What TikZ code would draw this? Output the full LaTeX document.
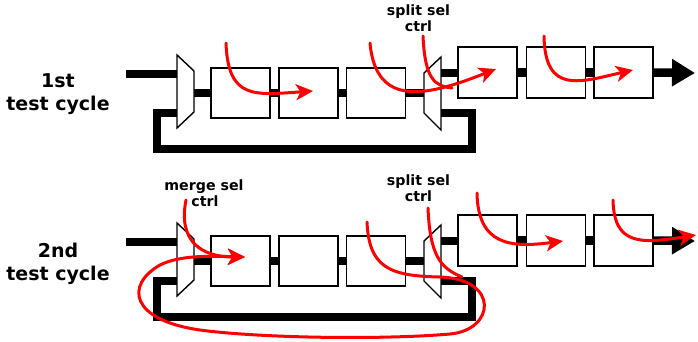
\documentclass[tikz,border=0pt]{standalone}
\usepackage{fontspec}
\setmainfont{DejaVu Sans}
\usetikzlibrary{arrows.meta}
\begin{document}
\begin{tikzpicture}[x=1pt,y=-1pt,
  reg/.style={draw=black, line width=1.4pt, fill=white, minimum width=59pt, minimum height=50pt, inner sep=0pt},
  bus/.style={line width=8.5pt, line join=miter, line cap=butt},
  mux/.style={draw=black, line width=1.4pt, fill=white, line join=miter},
  flow/.style={draw=red, line width=3pt, line cap=round},
  flowtip/.style={flow, -{Stealth[length=17pt,width=16pt,inset=4.5pt]}},
  big/.style={font=\bfseries\fontsize{19}{23}\selectfont, inner sep=0pt},
  small/.style={font=\bfseries\fontsize{14.2}{16}\selectfont, inner sep=0pt}]
\useasboundingbox (0,0) rectangle (698,341);

\foreach \r/\dy in {t/0,b/168}{
\begin{scope}[shift={(0,\dy)}]
  \node[reg] (\r1) at (240.5,93) {};
  \node[reg] (\r2) at (308.5,93) {};
  \node[reg] (\r3) at (376,93) {};
  \node[reg, minimum height=51pt] (\r4) at (487.5,72.5) {};
  \node[reg, minimum height=51pt] (\r5) at (556,72.5) {};
  \node[reg, minimum height=51pt] (\r6) at (623.5,72.5) {};
  \coordinate (\r in) at (126,74);
  \coordinate (\r mi) at (177,74);
  \coordinate (\r ma) at (177,55);
  \coordinate (\r mb) at (194,71);
  \coordinate (\r mc) at (194,112);
  \coordinate (\r md) at (177,128);
  \coordinate (\r mo) at (194,93);
  \coordinate (\r mf) at (177,113);
  \coordinate (\r sa) at (424,73);
  \coordinate (\r sb) at (441,57);
  \coordinate (\r sc) at (441,130);
  \coordinate (\r sd) at (424,113);
  \coordinate (\r si) at (424,93);
  \coordinate (\r so) at (441,73);
  \coordinate (\r sf) at (441,113);
  \coordinate (\r fr) at (472,149);
  \coordinate (\r fl) at (157,149);
  \coordinate (\r out) at (695,73);
  \draw[bus] (\r in) -- (\r mi);
  \draw[bus] (\r mo) -- (\r1.west);
  \draw[bus] (\r1.east) -- (\r2.west);
  \draw[bus] (\r2.east) -- (\r3.west);
  \draw[bus] (\r3.east) -- (\r si);
  \draw[bus] (\r so) -- (\r so -| \r4.west);
  \draw[bus] (\r4.east) -- (\r5.west);
  \draw[bus] (\r5.east) -- (\r6.west);
  \draw[bus, -{Triangle[length=23pt,width=26pt]}] (\r6.east) -- (\r out);
  \draw[bus] (\r sf) -| (\r fr) -- (\r fl) |- (\r mf);
  \draw[mux] (\r ma) -- (\r mb) -- (\r mc) -- (\r md) -- cycle;
  \draw[mux] (\r sa) -- (\r sb) -- (\r sc) -- (\r sd) -- cycle;
\end{scope}
}

% labels
\node[big, anchor=base] (l1a) at (58,87) {1st};
\node[big, anchor=base] (l1b) at (58,110) {test cycle};
\node[big, anchor=base] (l2a) at (58,257) {2nd};
\node[big, anchor=base] (l2b) at (58,280) {test cycle};
\node[small, anchor=base] (s1a) at (418.5,15) {split sel};
\node[small, anchor=base] (s1b) at (418.5,31) {ctrl};
\node[small, anchor=base] (s2a) at (418.5,185) {split sel};
\node[small, anchor=base] (s2b) at (418.5,201) {ctrl};
\node[small, anchor=base] (m2a) at (204,190) {merge sel};
\node[small, anchor=base] (m2b) at (205,206) {ctrl};

% red flows, first cycle
\coordinate (f1s) at (226,43);   \coordinate (f1e) at (313,91);
\coordinate (f2s) at (370,43);   \coordinate (f2e) at (496,69);
\coordinate (f3s) at (423,36);   \coordinate (f3e) at (452,88);
\coordinate (f4s) at (544,36);   \coordinate (f4e) at (633,70);
\draw[flowtip] (f1s) .. controls (228,100) and (255,95) .. (f1e);
\draw[flowtip] (f2s) .. controls (376,110) and (430,95) .. (f2e);
\draw[flow] (f3s) .. controls (425,80) and (435,86) .. (f3e);
\draw[flowtip] (f4s) .. controls (545,95) and (580,82) .. (f4e);

% red flows, second cycle
\coordinate (g1s) at (186,200);  \coordinate (g1e) at (245,257);
\coordinate (g2s) at (367,222);
\coordinate (g3s) at (428,208);  \coordinate (g3e) at (462,277);
\coordinate (g4s) at (477,193);  \coordinate (g4e) at (563,241);
\coordinate (g5s) at (613,200);  \coordinate (g5e) at (696,235);
\draw[flowtip] (g1s) .. controls (178,240) and (200,257) .. (g1e);
\draw[flowtip] (g2s) .. controls (369,268) and (390,276) .. (440,277)
  .. controls (500,279) and (495,330) .. (450,334)
  .. controls (380,340) and (260,338) .. (200,330)
  .. controls (130,320) and (125,285) .. (160,265)
  .. controls (180,255) and (210,256) .. (g1e);
\draw[flow] (g3s) .. controls (430,255) and (440,268) .. (g3e);
\draw[flowtip] (g4s) .. controls (478,245) and (510,248) .. (g4e);
\draw[flowtip] (g5s) .. controls (614,245) and (640,244) .. (g5e);
\end{tikzpicture}
\end{document}
